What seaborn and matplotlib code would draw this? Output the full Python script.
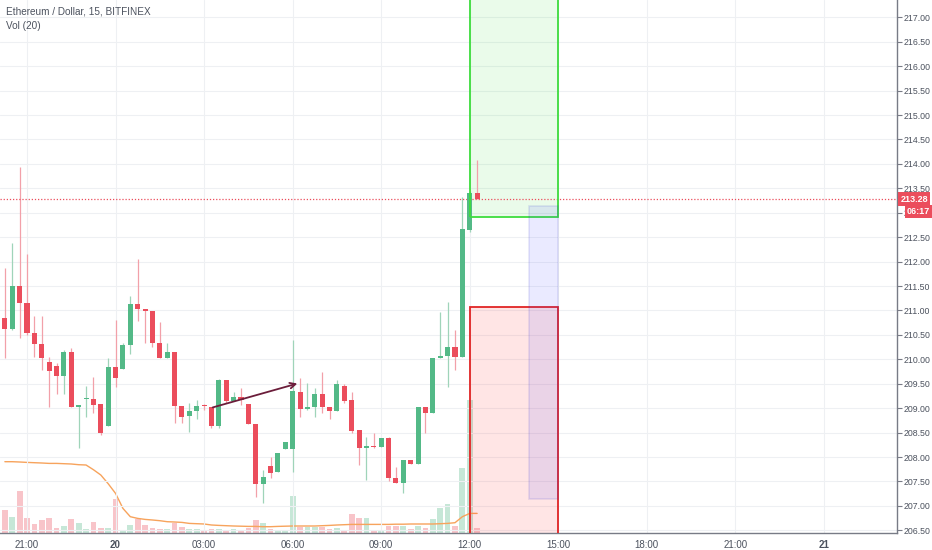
import numpy as np
import matplotlib
matplotlib.use("Agg")
import matplotlib.pyplot as plt
import matplotlib.transforms as mtransforms
from matplotlib.patches import Rectangle
import seaborn as sns

# 15-minute candles, index 0 = 21:00 on the 19th
idx = np.arange(-3, 62)
opens = [210.85, 210.63, 211.51, 211.15, 210.53, 210.31, 209.95, 209.86, 209.66, 210.15,
         209.02, 209.18, 209.19, 209.08, 208.64, 209.84, 209.80, 210.29, 211.13, 211.04,
         210.99, 210.33, 210.02, 210.15, 209.05, 208.84, 208.95, 209.06, 209.03, 208.64,
         209.58, 209.15, 209.22, 209.09, 208.67, 207.44, 207.82, 207.70, 208.16, 208.16,
         209.33, 208.98, 209.02, 209.29, 209.02, 208.95, 209.45, 209.16, 208.55, 208.19,
         208.23, 208.21, 208.40, 207.58, 207.47, 207.95, 207.86, 209.02, 208.91, 210.02,
         210.07, 210.26, 210.05, 212.65, 213.41]
highs = [211.86, 212.39, 213.94, 212.16, 210.89, 210.89, 210.05, 209.92, 210.19, 210.23,
         209.06, 209.46, 209.63, 209.08, 210.02, 210.80, 210.34, 211.30, 212.05, 211.04,
         210.99, 210.77, 210.33, 210.15, 209.05, 209.10, 209.17, 209.08, 209.03, 209.60,
         209.58, 209.33, 209.41, 209.09, 208.67, 207.73, 208.01, 208.08, 208.30, 210.40,
         209.61, 209.51, 209.41, 209.75, 209.02, 209.58, 209.49, 209.34, 208.55, 208.42,
         208.50, 208.38, 208.42, 207.80, 207.95, 207.95, 209.03, 209.02, 210.02, 210.97,
         211.18, 210.60, 213.33, 213.45, 214.08]
lows = [210.02, 210.60, 210.44, 210.50, 210.05, 209.78, 209.03, 209.30, 209.29, 209.02,
        208.18, 208.83, 208.90, 208.45, 208.64, 209.44, 209.80, 210.11, 210.79, 210.33,
        210.25, 210.03, 210.02, 208.69, 208.69, 208.52, 208.77, 208.97, 208.60, 208.60,
        209.10, 209.15, 209.07, 208.67, 207.19, 207.05, 207.58, 207.70, 208.16, 207.70,
        208.83, 208.97, 208.83, 208.90, 208.77, 208.95, 209.10, 208.49, 207.84, 207.53,
        208.18, 208.21, 207.50, 207.47, 207.26, 207.86, 207.86, 208.50, 208.91, 210.02,
        209.44, 209.78, 210.05, 212.60, 213.28]
closes = [210.63, 211.51, 211.15, 210.54, 210.31, 210.03, 209.77, 209.66, 210.15, 209.02,
          209.06, 209.20, 209.07, 208.49, 209.84, 209.61, 210.29, 211.13, 211.04, 210.99,
          210.33, 210.03, 210.15, 209.05, 208.83, 208.95, 209.05, 209.04, 208.64, 209.58,
          209.15, 209.22, 209.16, 208.67, 207.44, 207.60, 207.68, 208.08, 208.30, 209.35,
          208.98, 209.03, 209.29, 209.02, 208.95, 209.49, 209.15, 208.53, 208.19, 208.23,
          208.21, 208.38, 207.57, 207.47, 207.95, 207.86, 209.03, 208.91, 210.02, 210.07,
          210.26, 210.05, 212.66, 213.41, 213.28]
volume = [22.7, 15.3, 42, 15, 8.7, 12.7, 15, 4.3, 6.7, 13.7,
          10, 3.7, 10.3, 4.3, 4.3, 33.7, 2.7, 7.7, 13.7, 7.7,
          5, 3.7, 3.7, 9.3, 6, 3.7, 3.7, 2.7, 3.3, 3.7,
          2.7, 3.3, 2.7, 4.3, 12.7, 9.3, 3.7, 2.7, 2.7, 36.7,
          6, 5.3, 5.3, 6, 3.3, 5, 2.7, 18.3, 14.3, 14.3,
          2.7, 2.7, 6.7, 6.7, 6.7, 3.3, 7, 5, 13.3, 25,
          28.3, 6.7, 65, 132.7, 5]
vol_ma = [71, 71, 70.7, 70.3, 70, 69.7, 69.3, 69.3, 69, 68.7,
          68, 67.7, 63, 57.7, 49, 39.3, 24.3, 16, 14.3, 13.3,
          12.7, 12, 11, 10.7, 10.3, 9.3, 9, 8.7, 7.7, 7.3,
          7, 6.7, 6.5, 6.3, 6.3, 6, 6, 6.3, 6.5, 6.7,
          6.7, 6.7, 6.7, 7, 7.3, 7.7, 8, 8.3, 8.3, 8.3,
          8.3, 8.3, 8.3, 8.5, 8.5, 8.7, 8.7, 8.7, 8.7, 9,
          9.3, 10, 16, 19.3, 19.3]

last_price = 213.28
countdown = "06:17"
tick_pos = np.arange(0, 109, 12)
tick_labels = ["21:00", "20", "03:00", "06:00", "09:00", "12:00", "15:00", "18:00", "21:00", "21"]
price_ticks = np.arange(206.5, 217.01, 0.5)

# long/short position tool levels
target_level = 212.91
stop_level = 211.07
range_top, range_bottom = 213.14, 207.14

UP = "#53b987"
DOWN = "#eb4d5c"
TXT = "#4c525e"

sns.set_style("white")
plt.rcParams["font.family"] = ["Liberation Sans", "DejaVu Sans"]

fig = plt.figure(figsize=(9.32, 5.5), dpi=100)
fig.patch.set_facecolor("white")
ax = fig.add_axes([0, 17.3 / 550, 897 / 932, 532.7 / 550])
vax = ax.twinx()
ax.set_zorder(vax.get_zorder() + 1)
ax.patch.set_visible(False)

o = np.array(opens)
c = np.array(closes)
up = c >= o

# volume + MA
vax.bar(idx, volume, width=0.78, color=np.where(up, UP, DOWN), alpha=0.33, linewidth=0)
sns.lineplot(x=idx, y=vol_ma, ax=vax, color="#f7a35c", linewidth=1.0)
vax.set_ylim(0, 532.7)
vax.axis("off")

# candles
ax.vlines(idx, lows, highs, colors=np.where(up, "#9fd4b9", "#f2a0a9"), linewidth=0.9, zorder=2)
body = np.maximum(np.abs(c - o), 0.02)
ax.bar(idx, body, bottom=np.minimum(o, c), width=0.68,
       color=np.where(up, UP, DOWN), linewidth=0, zorder=3)

# position boxes
ax.add_patch(Rectangle((60, target_level), 12, 10, facecolor="#33dd33", alpha=0.1, edgecolor="none", zorder=1))
ax.add_patch(Rectangle((60, target_level), 12, 10, fill=False, edgecolor="#3ddc3d", linewidth=1.3, zorder=4))
ax.add_patch(Rectangle((60, 200), 12, stop_level - 200, facecolor="#ff3030", alpha=0.12, edgecolor="none", zorder=1))
ax.add_patch(Rectangle((60, 200), 12, stop_level - 200, fill=False, edgecolor="#e02424", linewidth=1.3, zorder=4))
ax.add_patch(Rectangle((68, range_bottom), 4, range_top - range_bottom, facecolor="#3a3aff", alpha=0.1,
                       edgecolor="#2020c8", linewidth=1.3, zorder=4))

# trend arrow
ax.annotate("", xy=(37.0, 209.52), xytext=(24.8, 209.00),
            arrowprops=dict(arrowstyle="->", color="#6b1d3a", lw=1.3, mutation_scale=10), zorder=5)

# last price line
ax.axhline(last_price, color=DOWN, linestyle=(0, (1, 1.5)), linewidth=0.9, zorder=2)

ax.set_xlim(-3.66, 117.9)
ax.set_ylim(206.452, 217.354)
ax.set_xticks(tick_pos)
ax.set_xticklabels(tick_labels)
for lbl in ax.get_xticklabels():
    if ":" not in lbl.get_text():
        lbl.set_fontweight("bold")
ax.set_yticks(price_ticks)
ax.set_yticklabels([f"{p:.2f}" for p in price_ticks])
ax.yaxis.tick_right()
ax.tick_params(axis="y", length=3.5, width=0.8, color="#787b86", labelsize=6.3, labelcolor=TXT, pad=1.5)
ax.tick_params(axis="x", length=0, labelsize=7, labelcolor=TXT, pad=5)
ax.grid(True, color="#eef0f3", linewidth=0.8)
ax.set_axisbelow(True)
for side in ["top", "left"]:
    ax.spines[side].set_visible(False)
for side in ["right", "bottom"]:
    ax.spines[side].set_color("#787b86")
    ax.spines[side].set_linewidth(1.0)

trans = mtransforms.blended_transform_factory(ax.transAxes, ax.transData)
ax.text(1.004, last_price, f"{last_price:.2f}", transform=trans, color="white", fontsize=6.5,
        fontweight="bold", ha="left", va="center", zorder=10, clip_on=False,
        bbox=dict(boxstyle="square,pad=0.25", fc=DOWN, ec="none"))
ax.text(1.011, 213.03, countdown, transform=trans, color="white", fontsize=6.5,
        fontweight="bold", ha="left", va="center", zorder=10, clip_on=False,
        bbox=dict(boxstyle="square,pad=0.25", fc=DOWN, ec="none"))

fig.text(6 / 932, 1 - 12 / 550, "Ethereum / Dollar, 15, BITFINEX", fontsize=7.2, color=TXT, va="center")
fig.text(6 / 932, 1 - 26 / 550, "Vol (20)", fontsize=7.2, color=TXT, va="center")

fig.savefig("out.png", dpi=100, facecolor="white")
